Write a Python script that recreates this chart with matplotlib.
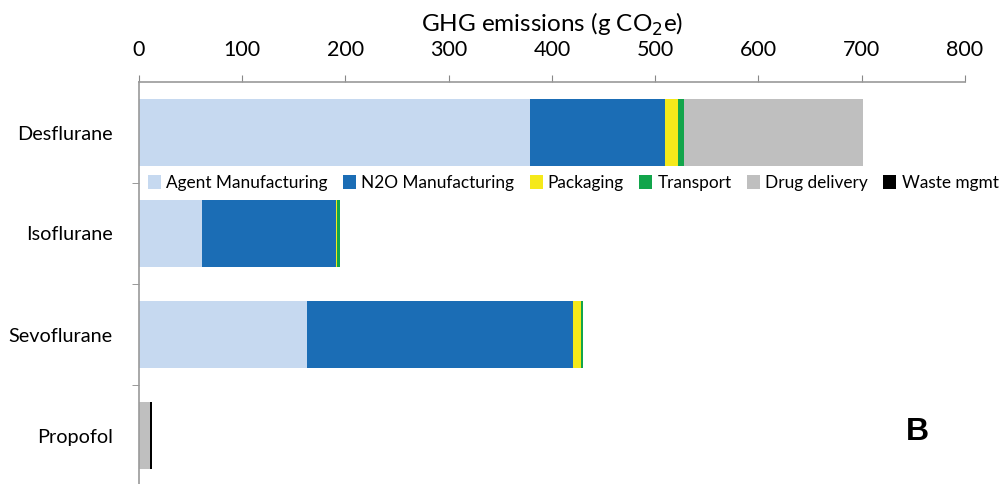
import numpy as np
import matplotlib
matplotlib.use("Agg")
import matplotlib.pyplot as plt

plt.rcParams['font.family'] = ['Lato', 'DejaVu Sans']

drugs = ['Desflurane', 'Isoflurane', 'Sevoflurane', 'Propofol']
stages = ['Agent Manufacturing', 'N2O Manufacturing', 'Packaging',
          'Transport', 'Drug delivery', 'Waste mgmt']
colors = ['#c6d9f0', '#1b6db5', '#f5e91a', '#12a54b', '#bfbfbf', '#000000']

agent = [379, 61, 163, 0]
n2o = [130, 130, 257, 0]
packaging = [13.5, 1, 8, 0]
transport = [5, 2.5, 2, 0]
drug_delivery = [174, 0, 0, 10.5]
waste = [0, 0, 0, 2]
series = [agent, n2o, packaging, transport, drug_delivery, waste]

fig = plt.figure(figsize=(10.03, 4.84), dpi=100)
ax = fig.add_axes([139 / 1003, -2 / 484, 826 / 1003, 404 / 484])

y = np.arange(len(drugs))
left = np.zeros(len(drugs))
for name, vals, c in zip(stages, series, colors):
    ax.barh(y, vals, left=left, height=0.66, color=c, label=name)
    left += np.array(vals)

ax.set_xlim(0, 800)
ax.set_ylim(3.5, -0.5)
ax.set_xticks(range(0, 801, 100))
ax.xaxis.tick_top()
ax.xaxis.set_label_position('top')
ax.set_xlabel('GHG emissions (g CO$_2$e)', fontsize=17.5, labelpad=6)
ax.tick_params(axis='x', labelsize=15.5, length=5, color='#888888', pad=11)

ax.set_yticks(y)
ax.set_yticklabels(drugs, fontsize=14.3)
ax.set_yticks(np.arange(0.5, 3.5, 1), minor=True)
ax.tick_params(axis='y', which='major', length=0, pad=19)
ax.tick_params(axis='y', which='minor', length=5, color='#888888')

for s in ['right', 'bottom']:
    ax.spines[s].set_visible(False)
for s in ['top', 'left']:
    ax.spines[s].set_color('#999999')
    ax.spines[s].set_linewidth(1.2)

ax.legend(loc='center left', bbox_to_anchor=(148 / 1003, 1 - 183 / 484),
          bbox_transform=fig.transFigure, ncol=6, frameon=False,
          fontsize=12.4, handlelength=0.75, handleheight=0.9,
          handletextpad=0.3, columnspacing=0.9, borderpad=0, borderaxespad=0)

fig.text(917 / 1003, 1 - 432 / 484, 'B', fontsize=23, fontweight='bold',
         family='Liberation Sans', ha='center', va='center')

fig.savefig('out.png', dpi=100)
